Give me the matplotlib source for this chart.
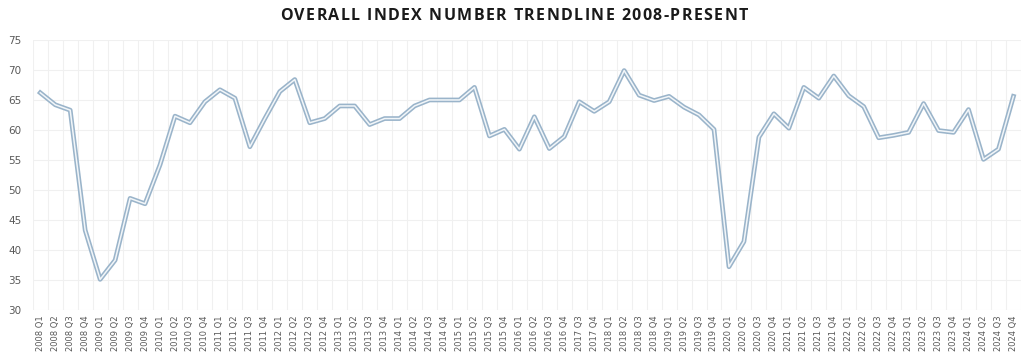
import matplotlib
matplotlib.use("Agg")
from matplotlib import pyplot as plt

quarters = (
    [f"{y} Q{q}" for y in range(2008, 2017) for q in range(1, 5)]
    + ["2017 Q3", "2017 Q4"]
    + [f"{y} Q{q}" for y in range(2018, 2025) for q in range(1, 5)]
)

index_values = [
    66.2, 64.2, 63.3, 43.3,   # 2008
    35.1, 38.3, 48.6, 47.7,   # 2009
    54.2, 62.3, 61.2, 64.7,   # 2010
    66.7, 65.3, 57.2, 61.9,   # 2011
    66.4, 68.4, 61.2, 61.9,   # 2012
    64.0, 64.0, 60.9, 61.9,   # 2013
    61.9, 64.0, 65.0, 65.0,   # 2014
    65.0, 67.1, 59.0, 60.1,   # 2015
    56.8, 62.2, 56.9, 58.9,   # 2016
    64.7, 63.1,               # 2017 Q3-Q4
    64.7, 69.9, 65.8, 64.9,   # 2018
    65.6, 63.8, 62.5, 60.1,   # 2019
    37.2, 41.4, 58.8, 62.7,   # 2020
    60.3, 67.1, 65.3, 69.0,   # 2021
    65.7, 63.9, 58.7, 59.1,   # 2022
    59.6, 64.4, 59.9, 59.6,   # 2023
    63.4, 55.1, 56.8, 65.6,   # 2024
]

y_ticks = list(range(30, 80, 5))
title = "OVERALL INDEX NUMBER TRENDLINE 2008-PRESENT"

fig = plt.figure(figsize=(10.24, 3.6), dpi=100)
ax = fig.add_axes([0.032, 0.139, 0.965, 0.75])

x = list(range(len(quarters)))
# double-line look: darker outline with a pale core
ax.plot(x, index_values, color="#9ab4ca", lw=3.4, solid_joinstyle="round", zorder=3)
ax.plot(x, index_values, color="#f2f6f9", lw=1.1, solid_joinstyle="round", zorder=4)

ax.set_xlim(-0.5, len(quarters) - 0.5)
ax.set_ylim(30, 75)
ax.set_yticks(y_ticks)
ax.set_xticks(x)
ax.set_xticklabels(quarters, rotation=90, fontsize=6, color="#595959")
ax.tick_params(axis="y", labelsize=7.5, labelcolor="#595959", length=0, pad=8)
ax.tick_params(axis="x", length=0, pad=4)

ax.set_xticks([i - 0.5 for i in range(len(quarters) + 1)], minor=True)
ax.tick_params(axis="x", which="minor", length=0)
ax.grid(axis="x", which="minor", color="#f0f0f0", lw=0.8)
ax.grid(axis="y", which="major", color="#f0f0f0", lw=0.8)
ax.grid(axis="x", which="major", visible=False)
for s in ax.spines.values():
    s.set_visible(False)

# letter-spaced title, drawn char by char
renderer = fig.canvas.get_renderer()
style = dict(fontsize=11.5, fontweight="bold", family="Open Sans", color="#1a1a1a")
spacing = 1.4  # px between letters
widths = []
for ch in title:
    t = fig.text(0, 0, ch if ch != " " else "n", **style)
    w = t.get_window_extent(renderer).width
    if ch == " ":
        w *= 0.4
    widths.append(w)
    t.remove()
total = sum(widths) + spacing * (len(title) - 1)
xpos = 514 - total / 2
for ch, w in zip(title, widths):
    if ch != " ":
        fig.text(xpos / 1024, 0.955, ch, ha="left", va="center", **style)
    xpos += w + spacing

fig.savefig("out.png", dpi=100, facecolor="white")
